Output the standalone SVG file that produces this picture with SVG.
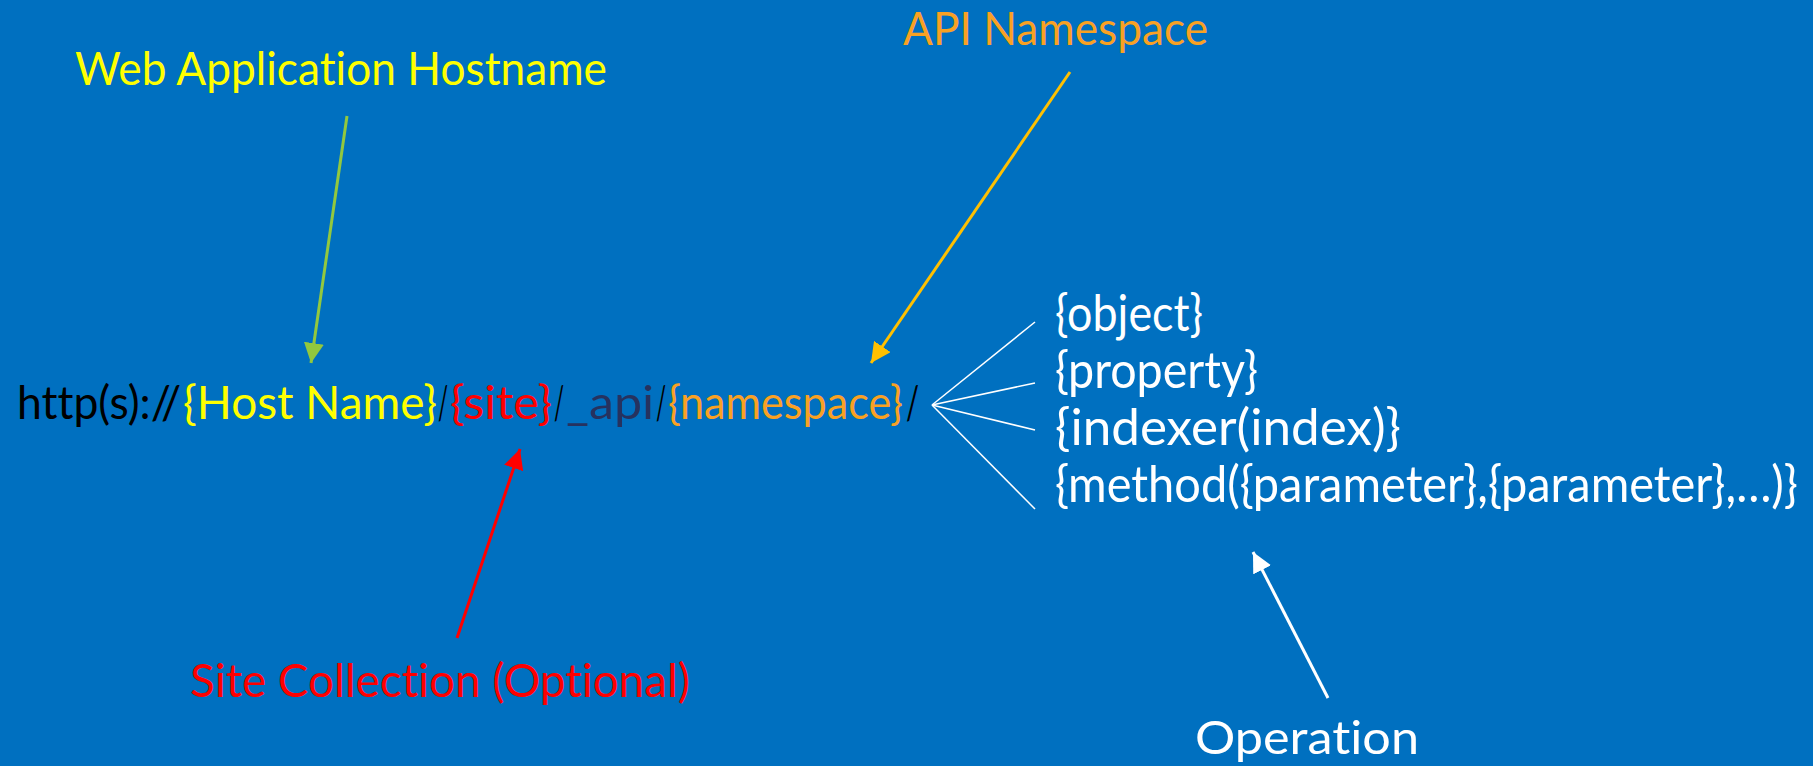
<svg xmlns="http://www.w3.org/2000/svg" width="1813" height="766" viewBox="0 0 1813 766">
<style>
text{font-family:Lato,"Open Sans","Liberation Sans",sans-serif;font-size:47px;font-variant-ligatures:none;font-feature-settings:"liga" 0,"clig" 0;}
.lst{font-size:50px}
.blk{fill:#000}
.yel{fill:#FFFF00}
.red{fill:#FF0000}
.nav{fill:#26325F}
.org{fill:#F9A123}
.wht{fill:#FFFFFF}
.conn{fill:none;stroke-width:3}
.fan{stroke:#FFFFFF;stroke-width:1.5;fill:none}
</style>
<defs>
<marker id="ag" markerUnits="userSpaceOnUse" markerWidth="20" markerHeight="20" refX="16" refY="8" orient="auto" viewBox="0 0 16 16"><path d="M0,0 L16,8 L0,16 z" fill="#92C83E"/></marker>
<marker id="ao" markerUnits="userSpaceOnUse" markerWidth="20" markerHeight="20" refX="16" refY="8" orient="auto" viewBox="0 0 16 16"><path d="M0,0 L16,8 L0,16 z" fill="#FFC000"/></marker>
<marker id="ar" markerUnits="userSpaceOnUse" markerWidth="20" markerHeight="20" refX="16" refY="8" orient="auto" viewBox="0 0 16 16"><path d="M0,0 L16,8 L0,16 z" fill="#FF0000"/></marker>
<marker id="aw" markerUnits="userSpaceOnUse" markerWidth="20" markerHeight="20" refX="16" refY="8" orient="auto" viewBox="0 0 16 16"><path d="M0,0 L16,8 L0,16 z" fill="#FFFFFF"/></marker>
</defs>
<rect width="1813" height="766" fill="#0070C0"/>
<g id="url">
<text class="blk" x="17" y="419" textLength="164" lengthAdjust="spacingAndGlyphs">http(s)://</text>
<text class="yel" x="183" y="419" textLength="254" lengthAdjust="spacingAndGlyphs">{Host Name}</text>
<text class="blk" x="438" y="419" textLength="10" lengthAdjust="spacingAndGlyphs">/</text>
<text class="red" x="450" y="419" textLength="102" lengthAdjust="spacingAndGlyphs">{site}</text>
<text class="blk" x="554" y="419" textLength="10" lengthAdjust="spacingAndGlyphs">/</text>
<text class="nav" x="566" y="419" textLength="88" lengthAdjust="spacingAndGlyphs">_api</text>
<text class="blk" x="656" y="419" textLength="10" lengthAdjust="spacingAndGlyphs">/</text>
<text class="org" x="668" y="419" textLength="235" lengthAdjust="spacingAndGlyphs">{namespace}</text>
<text class="blk" x="906" y="419" textLength="13" lengthAdjust="spacingAndGlyphs">/</text>
</g>
<g id="hostname-label"><text class="yel" x="75" y="85" textLength="532" lengthAdjust="spacingAndGlyphs">Web Application Hostname</text></g>
<g id="namespace-label"><text class="org" x="903" y="45" textLength="305" lengthAdjust="spacingAndGlyphs">API Namespace</text></g>
<g id="site-label"><text class="red" x="190" y="697" textLength="500" lengthAdjust="spacingAndGlyphs">Site Collection (Optional)</text></g>
<g id="operation-label"><text class="wht" x="1195" y="754" textLength="224" lengthAdjust="spacingAndGlyphs">Operation</text></g>
<g id="operations">
<text class="wht lst" x="1055" y="331" textLength="148" lengthAdjust="spacingAndGlyphs">{object}</text>
<text class="wht lst" x="1055" y="388" textLength="203" lengthAdjust="spacingAndGlyphs">{property}</text>
<text class="wht lst" x="1055" y="445" textLength="346" lengthAdjust="spacingAndGlyphs">{indexer(index)}</text>
<text class="wht lst" x="1055" y="502" textLength="743" lengthAdjust="spacingAndGlyphs">{method({parameter},{parameter},…)}</text>
</g>
<g id="connectors">
<line class="conn" x1="347" y1="116" x2="311" y2="363" stroke="#92C83E" marker-end="url(#ag)"/>
<line class="conn" x1="1070" y1="72" x2="871" y2="363" stroke="#FFC000" marker-end="url(#ao)"/>
<line class="conn" x1="457" y1="638" x2="520" y2="449" stroke="#FF0000" marker-end="url(#ar)"/>
<line class="conn" x1="1328" y1="698" x2="1253" y2="552" stroke="#FFFFFF" marker-end="url(#aw)"/>
<line class="fan" x1="932" y1="405" x2="1035" y2="322"/>
<line class="fan" x1="932" y1="405" x2="1035" y2="383"/>
<line class="fan" x1="932" y1="405" x2="1035" y2="430"/>
<line class="fan" x1="932" y1="405" x2="1035" y2="509"/>
</g>
</svg>
